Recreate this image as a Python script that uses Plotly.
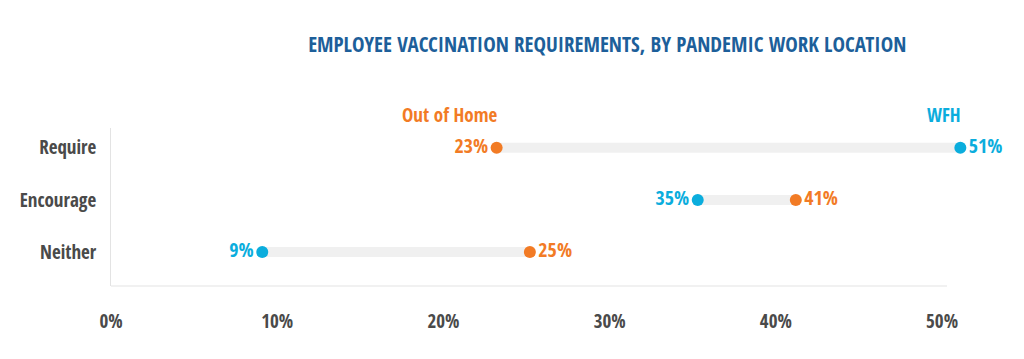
import plotly.graph_objects as go

categories = ["Neither", "Encourage", "Require"]
wfh = [9.1, 35.3, 51.1]
out_of_home = [25.2, 41.2, 23.2]
series_names = ["WFH", "Out of Home"]
x_ticks = [0, 10, 20, 30, 40, 50]
x_tick_labels = ["0%", "10%", "20%", "30%", "40%", "50%"]
title = "EMPLOYEE VACCINATION REQUIREMENTS, BY PANDEMIC WORK LOCATION"

BLUE = "#0BADDD"
ORANGE = "#F27B25"
GRAY_TXT = "#4A4A4A"
FONT = "Open Sans Condensed, Roboto Condensed, DejaVu Sans Condensed, sans-serif"

X_MAX = 51.5
AXIS_END = 50.3

fig = go.Figure()

# connecting bars
for c, a, b in zip(categories, wfh, out_of_home):
    fig.add_trace(go.Scatter(x=[a, b], y=[c, c], mode="lines",
                             line=dict(color="#F0F0F0", width=10),
                             hoverinfo="skip", showlegend=False))

wfh_pos = ["middle left" if a < b else "middle right" for a, b in zip(wfh, out_of_home)]
ooh_pos = ["middle right" if a < b else "middle left" for a, b in zip(wfh, out_of_home)]

fig.add_trace(go.Scatter(x=wfh, y=categories, mode="markers+text", name=series_names[0],
                         marker=dict(color=BLUE, size=12),
                         text=[f"{v:.0f}%" for v in wfh], textposition=wfh_pos,
                         textfont=dict(color=BLUE, size=20, family=FONT, weight="bold"),
                         cliponaxis=False, showlegend=False))
fig.add_trace(go.Scatter(x=out_of_home, y=categories, mode="markers+text", name=series_names[1],
                         marker=dict(color=ORANGE, size=12),
                         text=[f"{v:.0f}%" for v in out_of_home], textposition=ooh_pos,
                         textfont=dict(color=ORANGE, size=20, family=FONT, weight="bold"),
                         cliponaxis=False, showlegend=False))

# series name labels above the top row
top = categories.index("Require")
fig.add_annotation(x=out_of_home[top], y=categories[top], text=series_names[1],
                   xanchor="right", yanchor="middle", xshift=2, yshift=33, showarrow=False,
                   font=dict(color=ORANGE, size=19, family=FONT, weight="bold"))
fig.add_annotation(x=wfh[top], y=categories[top], text=series_names[0],
                   xanchor="right", yanchor="middle", xshift=3, yshift=33, showarrow=False,
                   font=dict(color=BLUE, size=19, family=FONT, weight="bold"))

# bottom axis line (shorter than the plotting range)
fig.add_shape(type="line", xref="x", yref="paper", x0=0, x1=AXIS_END, y0=0, y1=0,
              line=dict(color="#E3E3E3", width=1), layer="below")

fig.update_layout(
    width=1024, height=359,
    margin=dict(l=111, r=57, t=128, b=73),
    paper_bgcolor="white", plot_bgcolor="white",
    title=dict(text=title, x=0.593, xanchor="center", y=1 - 45 / 359, yanchor="middle",
               font=dict(color="#1D5F9A", size=21, family=FONT, weight="bold")),
    xaxis=dict(range=[0, X_MAX], tickvals=x_ticks, ticktext=x_tick_labels, showgrid=False,
               zeroline=False, showline=False,
               ticks="", ticklabelstandoff=22, automargin=False,
               tickfont=dict(color=GRAY_TXT, size=19, family=FONT, weight="bold")),
    yaxis=dict(type="category", categoryorder="array", categoryarray=categories,
               range=[-0.65, 2.38], showgrid=False, zeroline=False, showline=True,
               linecolor="#E3E3E3", linewidth=1, ticks="", ticklabelstandoff=10,
               automargin=False,
               tickfont=dict(color=GRAY_TXT, size=19, family=FONT, weight="bold")),
)

fig.write_html("out.html")
